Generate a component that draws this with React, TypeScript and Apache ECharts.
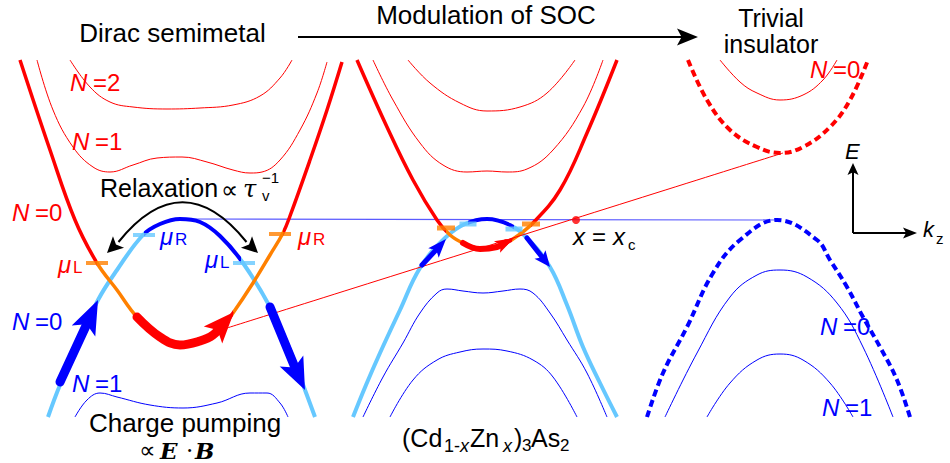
import React, { useEffect, useRef } from "react";
import * as echarts from "echarts";

type P = [number, number];

// ---------- values (x to the right, y downward) ----------
// Left panel: Dirac semimetal
const leftRedN0: P[] = [[20,60],[50,150],[75,220],[97,263],[117,290],[137,317],[160,337],[180,345],[200,341],[220,330],[233,313],[253,283],[270,255],[283,233],[290,216],[310,160],[327,110],[342,62]];
const leftRedN1: P[] = [[37,60],[53,110],[73,147],[93,167],[110,172],[133,165],[157,158],[182,157],[207,162],[233,170],[250,173],[262,172],[280,160],[300,130],[317,93],[327,62]];
const leftRedN2: P[] = [[70,60],[90,87],[110,102],[133,107],[167,109],[200,108],[233,105],[260,96],[280,78],[292,60]];
const leftBlueN0: P[] = [[48,417],[60,385],[80,340],[98,300],[117,270],[143,235],[160,224],[180,219],[200,222],[220,236],[243,263],[270,307],[290,350],[305,390],[315,417]];
const leftBlueN1: P[] = [[75,417],[87,400],[100,393],[117,397],[150,405],[183,408],[217,403],[250,393],[267,393],[280,403],[288,417]];
const leftOrangeSpans: P[] = [[97,137],[233,283]];
const leftDarkBlueSpans: P[] = [[144,241]];
const leftPumpBody: P[] = [[137,317],[160,337],[180,345],[200,341],[213,335]];
const leftPumpTip: P = [234,312];
const leftBlueArrowA: P[] = [[60,382],[83.5,331],[98,300]]; // tail, head base, tip
const leftBlueArrowB: P[] = [[270,307],[291.5,361],[305,390]];
const leftOrangeTicks: P[] = [[97,263],[280,234]];
const leftLightTicks: P[] = [[144,235],[244,263]];
const relaxLeftHead: P[] = [[118.5,242],[107,253]];
const relaxRightHead: P[] = [[246.5,242],[258,253]];

// Middle panel: (Cd1-xZnx)3As2 at x = xc
const midRedN0: P[] = [[357,60],[387,127],[413,180],[437,220],[450,235],[465,244],[482,249],[497,247],[513,239],[533,223],[560,190],[587,133],[617,60]];
const midRedN1: P[] = [[373,60],[393,100],[420,143],[443,165],[467,172],[487,171],[507,172],[527,169],[553,150],[583,107],[603,60]];
const midRedN2: P[] = [[408,60],[430,83],[460,103],[487,111],[520,107],[547,93],[575,60]];
const midBlueN0: P[] = [[353,417],[366,385],[380,353],[400,310],[420,268],[445,238],[465,224],[487,219],[510,225],[527,238],[550,267],[567,305],[583,347],[600,383],[617,417]];
const midBlueN1: P[] = [[363,417],[383,377],[403,343],[420,313],[437,293],[447,289],[463,291],[483,293],[503,291],[520,289],[533,293],[550,313],[567,340],[587,373],[607,417]];
const midBlueN2: P[] = [[390,417],[413,380],[437,360],[460,352],[483,349],[507,351],[533,360],[553,377],[577,417]];
const midOrangeSpans: P[] = [[446,463],[512,531]];
const midDarkBlueSpans: P[] = [[468,514]];
const midPumpBody: P[] = [[463,243],[480,249],[497,247]];
const midPumpTip: P = [514,238];
const midBlueArrowA: P[] = [[422,265],[433.5,253],[446,239]];
const midBlueArrowB: P[] = [[527,238],[540,254.5],[550,267]];
const midOrangeTicks: P[] = [[446,228],[531,224]];
const midLightTicks: P[] = [[468,224],[514,229]];

// Right panel: trivial insulator
const rightRedDashed: P[] = [[688,60],[707,100],[730,130],[757,147],[780,153],[803,147],[830,127],[850,100],[868,60]];
const rightRedN0: P[] = [[720,60],[740,82],[757,93],[780,100],[803,95],[823,80],[837,60]];
const rightBlueDashed: P[] = [[647,417],[663,373],[687,327],[713,273],[740,240],[777,220],[817,240],[830,260],[847,287],[863,317],[880,347],[897,380],[910,417]];
const rightBlueN0: P[] = [[665,417],[697,353],[730,297],[757,275],[780,270],[807,277],[837,303],[863,347],[893,417]];
const rightBlueN1: P[] = [[707,417],[730,383],[757,360],[780,354],[803,360],[830,383],[853,417]];

// Connecting lines and black arrows
const fermiLevel: P[] = [[180,219],[777,220]];
const socTrend: P[] = [[227,328],[783,153]];
const criticalPoint: P[] = [[576,220]];
const socArrow: P[] = [[298,37],[677,37],[698,37]];
const energyAxis: P[] = [[853,233],[853,175],[853,163]];
const kzAxis: P[] = [[853,233],[903,233],[917,233]];

// ---------- styles ----------
const RED = "#ff0000";
const ORANGE = "#ff8000";
const LIGHT = "#66c8ff";
const BLUE = "#0000ff";
const FERMI = "#5a5aff";
const BLACK = "#000000";
const SANS = '"Liberation Sans", Arial, Helvetica, sans-serif';
const SERIF = '"DejaVu Serif", "Liberation Serif", serif';
const MATH = '"DejaVu Sans", sans-serif';

function buildOption() {
  const series: any[] = [];
  const visualMap: any[] = [];
  const add = (s: any) => { series.push(s); return series.length - 1; };

  const curve = (data: P[], color: string, width: number, z: number, dash?: number[], cap = "butt") =>
    add({
      type: "line", data, smooth: 0.4, symbol: "none", showSymbol: false, silent: true, z,
      lineStyle: { color, width, type: dash || "solid", cap, join: "round" },
    });

  const banded = (data: P[], base: string, alt: string, spans: P[], width: number, z: number) => {
    const idx = add({
      type: "line", data, smooth: 0.4, symbol: "none", showSymbol: false, silent: true, z,
      lineStyle: { width, join: "round" },
    });
    const pieces: any[] = [];
    spans.forEach(([a, b], i) => {
      if (i === 0) pieces.push({ lt: a, color: base });
      else pieces.push({ gte: spans[i - 1][1], lt: a, color: base });
      pieces.push({ gte: a, lt: b, color: alt });
    });
    pieces.push({ gte: spans[spans.length - 1][1], color: base });
    visualMap.push({ type: "piecewise", show: false, seriesIndex: idx, dimension: 0, pieces });
  };

  // arrow head (custom series) from its base midpoint to its tip; returns the head centre
  const head = (base: P, tip: P, width: number, color: string, z: number): P => {
    add({
      type: "custom", coordinateSystem: "cartesian2d", silent: true, z, clip: false,
      data: [[base[0], base[1], tip[0], tip[1]]],
      renderItem: (_p: any, api: any) => {
        const b = api.coord([api.value(0), api.value(1)]);
        const t = api.coord([api.value(2), api.value(3)]);
        const dx = t[0] - b[0];
        const dy = t[1] - b[1];
        const L = Math.hypot(dx, dy) || 1;
        const ux = dx / L;
        const uy = dy / L;
        const h = width / 2;
        const notch = [b[0] + ux * L * 0.22, b[1] + uy * L * 0.22];
        return {
          type: "polygon",
          shape: { points: [t, [b[0] - uy * h, b[1] + ux * h], notch, [b[0] + uy * h, b[1] - ux * h]] },
          style: { fill: color },
        };
      },
    });
    return [(base[0] + tip[0]) / 2, (base[1] + tip[1]) / 2];
  };
  const straightArrow = (pts: P[], color: string, width: number, headW: number, z: number, cap = "round") => {
    const c = head(pts[1], pts[2], headW, color, z);
    curve([pts[0], c], color, width, z, undefined, cap);
  };

  const ticks = (data: P[], color: string, size: number[], z: number) =>
    add({ type: "scatter", data, symbol: "rect", symbolSize: size, silent: true, z, itemStyle: { color } });

  // thin Landau levels
  curve(leftRedN1, RED, 1, 2);
  curve(leftRedN2, RED, 1, 2);
  curve(leftBlueN1, BLUE, 1, 2);
  curve(midRedN1, RED, 1, 2);
  curve(midRedN2, RED, 1, 2);
  curve(midBlueN1, BLUE, 1, 2);
  curve(midBlueN2, BLUE, 1, 2);
  curve(rightRedN0, RED, 1, 2);
  curve(rightBlueN0, BLUE, 1, 2);
  curve(rightBlueN1, BLUE, 1, 2);
  // dashed gap edges
  curve(rightRedDashed, RED, 4, 3, [7, 4]);
  curve(rightBlueDashed, BLUE, 4, 3, [7, 4]);
  // connecting lines
  curve(fermiLevel, FERMI, 1.2, 2);
  curve(socTrend, RED, 1, 4);
  // N = 0 bands, coloured by section
  banded(leftBlueN0, LIGHT, BLUE, leftDarkBlueSpans, 4, 3);
  banded(leftRedN0, RED, ORANGE, leftOrangeSpans, 3.5, 3);
  banded(midBlueN0, LIGHT, BLUE, midDarkBlueSpans, 4, 3);
  banded(midRedN0, RED, ORANGE, midOrangeSpans, 3.5, 3);
  // chemical-potential ticks
  ticks(leftOrangeTicks, ORANGE, [22, 4], 5);
  ticks(leftLightTicks, LIGHT, [22, 4], 5);
  ticks(midOrangeTicks, ORANGE, [18, 5], 5);
  ticks(midLightTicks, LIGHT, [17, 5], 5);
  // pumping arrows
  {
    const c = head(leftPumpBody[leftPumpBody.length - 1], leftPumpTip, 25, RED, 6);
    curve([...leftPumpBody, c], RED, 9, 6, undefined, "round");
  }
  straightArrow(leftBlueArrowA, BLUE, 9, 26, 6);
  straightArrow(leftBlueArrowB, BLUE, 9, 26, 6);
  {
    const c = head(midPumpBody[midPumpBody.length - 1], midPumpTip, 13, RED, 6);
    curve([...midPumpBody, c], RED, 6, 6, undefined, "round");
  }
  straightArrow(midBlueArrowA, BLUE, 5, 14, 6);
  straightArrow(midBlueArrowB, BLUE, 5, 14, 6);
  // relaxation arc
  add({
    type: "lines", coordinateSystem: "cartesian2d", silent: true, z: 7, symbol: ["none", "none"],
    lineStyle: { color: BLACK, width: 2, opacity: 1, curveness: 0.62 },
    data: [{ coords: [relaxLeftHead[0], relaxRightHead[0]] }],
  });
  head(relaxLeftHead[0], relaxLeftHead[1], 16, BLACK, 7);
  head(relaxRightHead[0], relaxRightHead[1], 16, BLACK, 7);
  // black arrows
  straightArrow(socArrow, BLACK, 2, 17, 7, "butt");
  straightArrow(energyAxis, BLACK, 2, 11, 7, "butt");
  straightArrow(kzAxis, BLACK, 2, 11, 7, "butt");
  // critical point
  add({ type: "scatter", data: criticalPoint, symbol: "circle", symbolSize: 8, silent: true, z: 8, itemStyle: { color: RED } });

  return { series, visualMap };
}

type TOpt = { size?: number; color?: string; italic?: boolean; bold?: boolean; family?: string; align?: string; lineHeight?: number };
function T(text: string, x: number, y: number, o: TOpt = {}) {
  const align = o.align || "left";
  const style: any = {
    text, fill: o.color || BLACK, fontSize: o.size || 26, fontFamily: o.family || SANS,
    fontStyle: o.italic ? "italic" : "normal", fontWeight: o.bold ? "bold" : "normal",
    align, verticalAlign: "middle", textAlign: align, textVerticalAlign: "middle",
  };
  if (o.lineHeight) style.lineHeight = o.lineHeight;
  return { type: "text", x, y, z: 100, silent: true, style };
}
function NLabel(n: string, x: number, y: number, color: string) {
  return [T("N", x, y, { size: 24, color, italic: true }), T("=" + n, x + 23, y, { size: 24, color })];
}
function MuLabel(sub: string, x: number, yTop: number, color: string) {
  return [
    T("\u03bc", x, yTop + 4.5, { size: 24, color, italic: true }),
    T(sub, x + 15, yTop + 7, { size: 17, color }),
  ];
}

function buildGraphics() {
  return [
    T("Dirac semimetal", 172.5, 33, { align: "center" }),
    T("Modulation of SOC", 486, 15, { align: "center" }),
    T("Trivial", 771, 18, { align: "center", size: 25 }),
    T("insulator", 771, 43.5, { align: "center", size: 25 }),
    T("Charge pumping", 185, 422.5, { align: "center" }),
    ...NLabel("2", 70, 82, RED),
    ...NLabel("1", 72, 141, RED),
    ...NLabel("0", 12, 212, RED),
    ...NLabel("0", 810, 69, RED),
    ...NLabel("0", 12, 321.5, BLUE),
    ...NLabel("1", 72, 383, BLUE),
    ...NLabel("0", 820, 326, BLUE),
    ...NLabel("1", 822, 407, BLUE),
    ...MuLabel("L", 58, 260, RED),
    ...MuLabel("R", 160, 232, BLUE),
    ...MuLabel("L", 205, 255, BLUE),
    ...MuLabel("R", 298, 232, RED),
    // Relaxation ∝ τv^-1
    T("Relaxation", 100, 188, { size: 25 }),
    T("\u221d", 221, 190, { size: 24, family: MATH }),
    T("\u03c4", 243, 188.7, { size: 24, italic: true, family: SERIF }),
    T("v", 262, 195, { size: 15 }),
    T("\u22121", 262, 177.5, { size: 15 }),
    // ∝ E·B
    T("\u221d", 139, 450, { size: 23, family: MATH }),
    T("E", 160, 450, { size: 23, italic: true, bold: true, family: SERIF }),
    T("\u00b7", 186, 450, { size: 23, family: SERIF }),
    T("B", 195, 450, { size: 23, italic: true, bold: true, family: SERIF }),
    // (Cd1-xZnx)3As2
    T("(Cd", 402, 438.3, { size: 25 }),
    T("1-", 444, 445.8, { size: 18 }),
    T("x", 460, 445.8, { size: 18, italic: true }),
    T("Zn", 470, 438.3, { size: 25 }),
    T("x", 503, 445.8, { size: 18, italic: true }),
    T(")", 514, 438.3, { size: 25 }),
    T("3", 522, 445.8, { size: 17 }),
    T("As", 531, 438.3, { size: 25 }),
    T("2", 560, 445.8, { size: 17 }),
    // x = xc
    T("x", 573, 236.7, { size: 24, italic: true }),
    T("=", 592, 236.7, { size: 24 }),
    T("x", 613, 236.7, { size: 24, italic: true }),
    T("c", 628, 244.8, { size: 15 }),
    // axes
    T("E", 845, 151, { size: 22, italic: true }),
    T("k", 923, 229.7, { size: 22, italic: true }),
    T("z", 936, 238, { size: 15 }),
  ];
}

export default function App() {
  const ref = useRef<HTMLDivElement>(null);
  useEffect(() => {
    if (!ref.current) return;
    const chart = echarts.init(ref.current, null, { renderer: "svg" });
    const { series, visualMap } = buildOption();
    chart.setOption({
      animation: false,
      backgroundColor: "#ffffff",
      grid: { left: 0, right: 0, top: 0, bottom: 0, containLabel: false },
      xAxis: { type: "value", min: 0, max: 950, show: false },
      yAxis: { type: "value", min: 0, max: 463, inverse: true, show: false },
      visualMap,
      series,
      graphic: { elements: buildGraphics() },
    });
    return () => chart.dispose();
  }, []);
  return (
    <div
      ref={ref}
      style={{ position: "fixed", left: 0, top: 0, width: 950, height: 463, background: "#fff" }}
    />
  );
}
